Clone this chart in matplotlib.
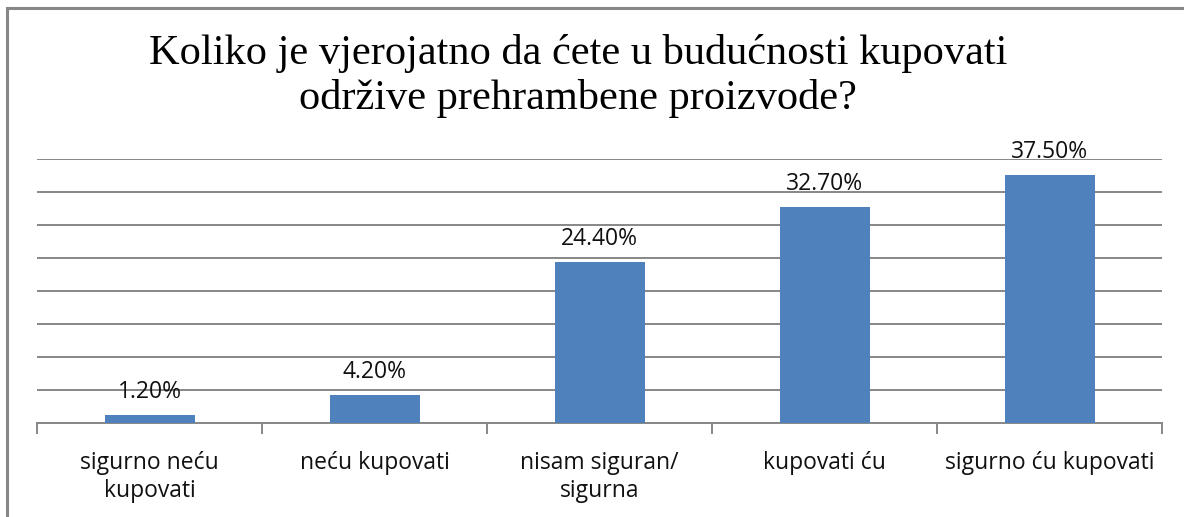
import matplotlib
matplotlib.use("Agg")
import matplotlib.pyplot as plt
from matplotlib.patches import Rectangle

categories = ["sigurno neću\nkupovati", "neću kupovati", "nisam siguran/\nsigurna", "kupovati ću", "sigurno ću kupovati"]
values = [1.2, 4.2, 24.4, 32.7, 37.5]
value_labels = ["1.20%", "4.20%", "24.40%", "32.70%", "37.50%"]
title = "Koliko je vjerojatno da ćete u budućnosti kupovati\nodržive prehrambene proizvode?"

W, H = 1184, 517
fig = plt.figure(figsize=(W / 100, H / 100), dpi=100)
fig.patch.set_facecolor("white")

# outer border (left and top visible)
fig.patches.append(Rectangle((7 / W, -0.1), 1.2, 1 - 8 / H + 0.1, transform=fig.transFigure,
                             fill=False, edgecolor="#878787", linewidth=2.2))

left, right, bottom, top = 37, 1162, 423, 159
ax = fig.add_axes([left / W, 1 - bottom / H, (right - left) / W, (bottom - top) / H])

x = list(range(len(categories)))
ax.bar(x, values, width=0.4, color="#4F81BD", zorder=3)
ax.set_xlim(-0.5, len(categories) - 0.5)
ax.set_ylim(0, 40)
ax.set_yticks(range(0, 41, 5))
ax.yaxis.grid(True, color="#878787", linewidth=1.4, zorder=0)
ax.tick_params(axis="y", left=False, labelleft=False)
for s in ["left", "right", "top"]:
    ax.spines[s].set_visible(False)
ax.spines["bottom"].set_color("#878787")
ax.spines["bottom"].set_linewidth(1.4)

ax.set_xticks(x)
ax.set_xticklabels(categories, fontsize=16.5, family="Open Sans", linespacing=1.25, color="#111111")
ax.tick_params(axis="x", length=0, pad=20)
ax.set_xticks([i - 0.5 for i in range(len(categories) + 1)], minor=True)
ax.tick_params(axis="x", which="minor", length=8, width=1.4, color="#878787")

for xi, v, lab in zip(x, values, value_labels):
    ax.text(xi, v + 1.7, lab, ha="center", va="bottom", fontsize=16.5, family="Open Sans", color="#111111")

fig.text(578 / W, 1 - 76 / H, title, ha="center", va="center",
         fontsize=30.5, family="Liberation Serif", linespacing=1.22)

fig.savefig("out.png", dpi=100)
